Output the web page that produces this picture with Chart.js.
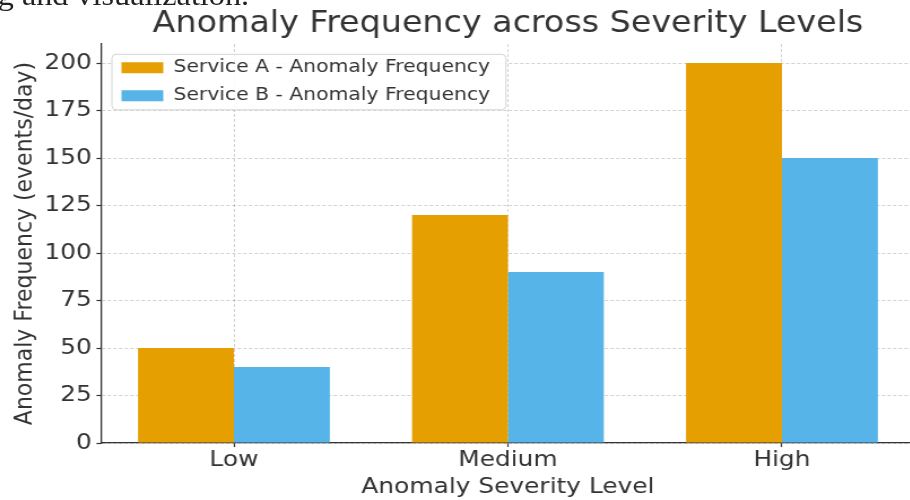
<!DOCTYPE html>
<html>
<head>
<meta charset="utf-8">
<script src="https://cdn.jsdelivr.net/npm/chart.js@4.4.1/dist/chart.umd.min.js"></script>
<style>
  html, body { margin: 0; padding: 0; background: #fff; width: 910px; height: 500px; overflow: hidden; }
  #stage { position: absolute; left: 0; top: 0; width: 830px; height: 500px; transform: scaleX(1.13); transform-origin: 0 0; }
  #lead { position: absolute; left: -2px; top: -18.4px; font-family: 'Liberation Serif', serif; font-size: 28.5px; line-height: 1; color: #222; white-space: nowrap; }
  #chart { position: absolute; left: 0; top: 0; }
</style>
</head>
<body>
<div id="stage">
  <div id="lead">g and visualization.</div>
  <canvas id="chart" width="830" height="500"></canvas>
</div>
<script>
// Severity levels and daily anomaly counts per service
const categories = ['Low', 'Medium', 'High'];
const serviceA = [50, 120, 200];
const serviceB = [40, 90, 150];
const seriesNames = ['Service A - Anomaly Frequency', 'Service B - Anomaly Frequency'];
const yStep = 25;

const TEXT = '#333333';
const AXIS = '#333333';
const GRID = 'rgba(0,0,0,0.18)';
const FONT = "'DejaVu Sans', sans-serif";

Chart.defaults.font.family = FONT;
Chart.defaults.color = TEXT;

// Legend sits inside the plot area, nudged from its top-left corner,
// and gets a rounded translucent frame behind it.
const LEGEND_DX = 8.1;
const LEGEND_DY = 4.8;

function paintLegendFrame(lg) {
  const ctx = lg.ctx;
  const lab = lg.options.labels;
  const size = lab.font.size;
  const pad = lab.padding;
  ctx.save();
  ctx.font = size + 'px ' + FONT;
  let widest = 0;
  lg.legendItems.forEach(it => { widest = Math.max(widest, ctx.measureText(it.text).width); });
  const x0 = lg.left + pad;
  const y0 = lg.top + pad;
  const n = lg.legendItems.length;
  const left = x0 - 8.5;
  const right = x0 + lab.boxWidth + size / 2 + widest + 14;
  const top = y0 - 4.5;
  const bottom = y0 + (n - 1) * (size + pad) + size + 5;
  ctx.beginPath();
  ctx.roundRect(left, top, right - left, bottom - top, 4);
  ctx.fillStyle = 'rgba(255,255,255,0.85)';
  ctx.fill();
  ctx.lineWidth = 1;
  ctx.strokeStyle = '#d4d4d4';
  ctx.stroke();
  ctx.restore();
}

const legendFrame = {
  id: 'legendFrame',
  afterLayout(chart) {
    const lg = chart.legend;
    if (!lg) return;
    const area = chart.chartArea;
    lg.left = area.left + LEGEND_DX;
    lg.top = area.top + LEGEND_DY;
    lg.right = lg.left + lg.width;
    lg.bottom = lg.top + lg.height;
    if (!lg._framed) {
      const baseDraw = lg.draw;
      lg.draw = function () {
        paintLegendFrame(this);
        return baseDraw.apply(this, arguments);
      };
      lg._framed = true;
    }
  }
};

new Chart(document.getElementById('chart'), {
  type: 'bar',
  data: {
    datasets: [
      {
        label: seriesNames[0],
        data: categories.map((c, i) => ({ x: i, y: serviceA[i] })),
        backgroundColor: '#E69F00'
      },
      {
        label: seriesNames[1],
        data: categories.map((c, i) => ({ x: i, y: serviceB[i] })),
        backgroundColor: '#56B4E9'
      }
    ]
  },
  options: {
    responsive: false,
    animation: false,
    devicePixelRatio: 1,
    layout: { padding: { left: 0, right: 20.4, top: 0, bottom: 0 } },
    datasets: { bar: { categoryPercentage: 0.7, barPercentage: 1.0, borderWidth: 0 } },
    plugins: {
      title: {
        display: true,
        text: 'Anomaly Frequency across Severity Levels',
        fullSize: false,
        color: TEXT,
        font: { size: 29.5, weight: 'normal' },
        padding: { top: 7.1, bottom: 1.5 }
      },
      legend: {
        position: 'chartArea',
        align: 'start',
        labels: {
          boxWidth: 37,
          boxHeight: 11,
          padding: 10,
          color: TEXT,
          font: { size: 18 }
        }
      },
      tooltip: { enabled: false }
    },
    scales: {
      x: {
        type: 'linear',
        min: -0.485,
        max: 2.485,
        offset: false,
        ticks: {
          stepSize: 1,
          includeBounds: false,
          autoSkip: false,
          maxRotation: 0,
          color: TEXT,
          font: { size: 22 },
          padding: 0.4,
          callback: v => (categories[v] !== undefined ? categories[v] : '')
        },
        grid: {
          offset: false,
          color: GRID,
          lineWidth: 1,
          tickLength: 4,
          tickColor: AXIS,
          tickWidth: 1.2,
          tickBorderDash: []
        },
        border: { display: true, color: AXIS, width: 1.3, dash: [3, 2] },
        title: {
          display: true,
          text: 'Anomaly Severity Level',
          color: TEXT,
          font: { size: 22 },
          padding: { top: 0, bottom: 0 }
        },
        afterFit: s => { s.height = 57; }
      },
      y: {
        min: 0,
        max: 210,
        ticks: {
          stepSize: yStep,
          includeBounds: false,
          color: TEXT,
          font: { size: 22 },
          padding: 4.2
        },
        grid: {
          color: GRID,
          lineWidth: 1,
          tickLength: 4,
          tickColor: AXIS,
          tickWidth: 1.2,
          tickBorderDash: []
        },
        border: { display: true, color: AXIS, width: 1.3, dash: [3, 2] },
        title: {
          display: true,
          text: 'Anomaly Frequency (events/day)',
          color: TEXT,
          font: { size: 22 },
          padding: { top: 9, bottom: 0 }
        },
        afterFit: s => { s.width = 89.4; }
      }
    }
  },
  plugins: [legendFrame]
});
</script>
</body>
</html>
